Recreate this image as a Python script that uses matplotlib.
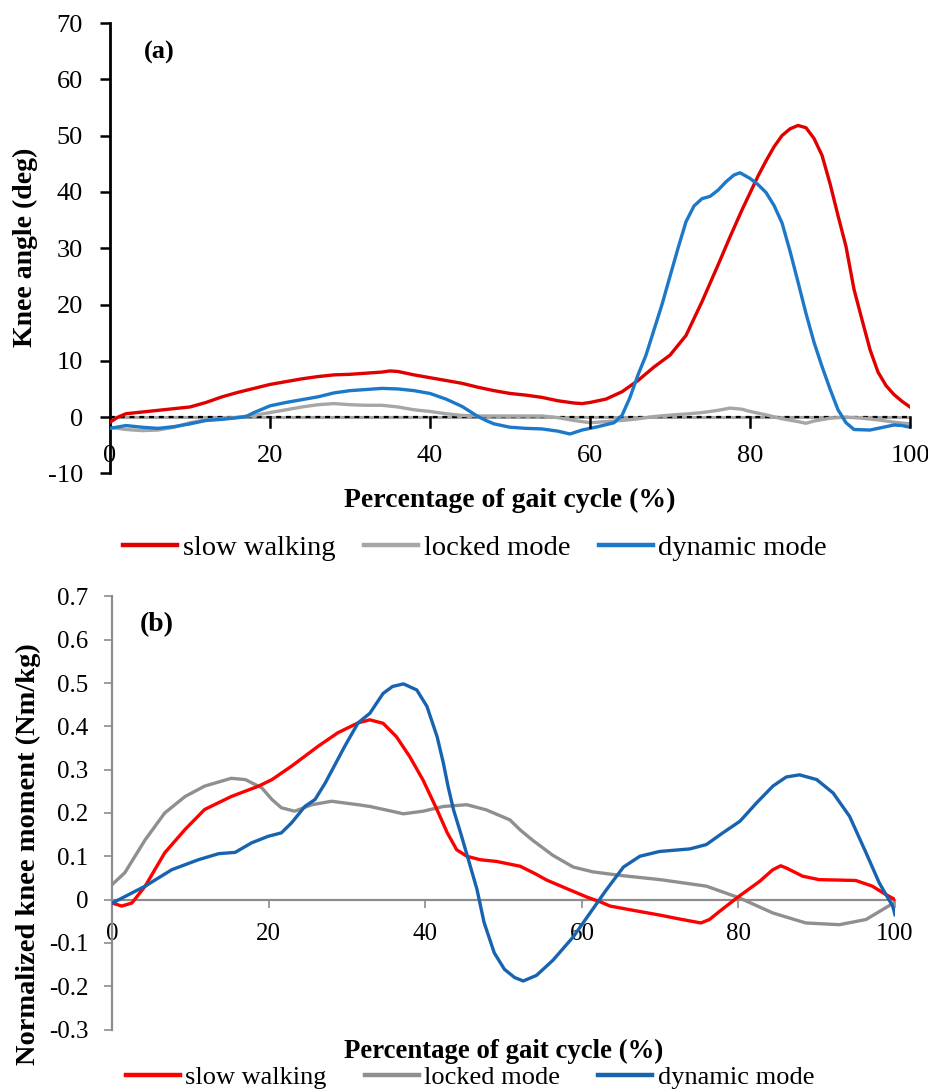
import matplotlib
matplotlib.use("Agg")
import matplotlib.pyplot as plt
from matplotlib.lines import Line2D

plt.rcParams['font.family'] = ['Liberation Serif', 'DejaVu Serif']
plt.rcParams['axes.unicode_minus'] = False

# ---------------- (a) Knee angle ----------------
a_slow_x = [0, 1, 2, 4, 6, 8, 10, 12, 14, 16, 18, 20, 22, 24, 26, 28, 30, 32, 34, 35, 36, 38, 40,
            42, 44, 46, 48, 50, 52, 54, 56, 58, 59, 60, 62, 64, 66, 68, 70, 72, 74, 76, 77.5, 78,
            79, 80, 81, 82, 83, 84, 85, 86, 87, 88, 89, 90, 91, 92, 93, 94, 95, 96, 97, 98, 99, 100]
a_slow_y = [-0.9, 0.0, 0.6, 0.9, 1.2, 1.5, 1.8, 2.6, 3.6, 4.4, 5.1, 5.8, 6.3, 6.8, 7.2, 7.5, 7.6,
            7.8, 8.0, 8.2, 8.1, 7.5, 7.0, 6.5, 6.0, 5.3, 4.7, 4.2, 3.9, 3.5, 2.9, 2.5, 2.4, 2.6,
            3.2, 4.5, 6.5, 8.9, 11.0, 14.5, 20.5, 27.0, 32.0, 33.6, 36.8, 39.8, 42.8, 45.5, 48.0,
            50.0, 51.2, 51.8, 51.4, 49.5, 46.5, 41.5, 35.8, 30.3, 22.7, 17.3, 12.0, 8.0, 5.6,
            4.0, 2.8, 1.8]

a_lock_x = [0, 2, 4, 6, 8, 10, 12, 14, 16, 18, 20, 22, 24, 26, 28, 30, 32, 34, 36, 38, 40, 42, 44,
            46, 50, 54, 56, 58, 60, 62, 64, 66, 68, 70, 72, 74, 76, 77.5, 79, 80, 82, 84, 86, 87,
            88, 90, 92, 94, 96, 98, 100]
a_lock_y = [-1.8, -2.2, -2.4, -2.3, -1.8, -1.0, -0.5, -0.3, 0.0, 0.3, 0.8, 1.3, 1.8, 2.2, 2.4,
            2.2, 2.1, 2.1, 1.8, 1.3, 1.0, 0.6, 0.3, 0.2, 0.2, 0.2, -0.1, -0.6, -1.0, -0.8, -0.6,
            -0.3, 0.1, 0.35, 0.55, 0.8, 1.2, 1.6, 1.4, 1.0, 0.4, -0.3, -0.8, -1.1, -0.7, -0.2,
            0.0, -0.2, -0.5, -0.9, -1.2]

a_dyn_x = [0, 2, 4, 6, 8, 10, 12, 14, 16, 17, 18, 20, 22, 24, 26, 28, 30, 32, 34, 36, 38, 40, 42,
           44, 45, 46, 47, 48, 50, 52, 54, 56, 57.5, 59, 61, 63, 64, 65, 66, 67, 68, 69, 70, 71,
           72, 73, 74, 75, 76, 77, 78, 78.75, 80, 81, 82, 83, 84, 85, 86, 87, 88, 89, 90, 91, 92,
           93, 95, 97, 98, 99, 100]
a_dyn_y = [-2.0, -1.5, -1.8, -2.0, -1.7, -1.2, -0.6, -0.4, -0.1, 0.1, 0.8, 2.0, 2.6, 3.1, 3.6,
           4.3, 4.7, 4.9, 5.1, 5.0, 4.7, 4.2, 3.2, 1.9, 1.0, 0.1, -0.6, -1.2, -1.8, -2.0, -2.1,
           -2.5, -3.0, -2.3, -1.7, -1.0, 0.3, 3.5, 7.5, 11.0, 15.5, 20.0, 25.0, 30.0, 34.7, 37.5,
           38.8, 39.2, 40.3, 41.8, 43.0, 43.4, 42.4, 41.3, 39.9, 37.6, 34.5, 29.5, 24.0, 18.4,
           13.3, 9.0, 5.0, 1.3, -1.0, -2.2, -2.3, -1.7, -1.4, -1.5, -1.8]

# ---------------- (b) Knee moment ----------------
b_slow_x = [0, 1.2, 2.5, 4.2, 6.7, 9.3, 11.8, 15.2, 18.7, 20.4, 22.9, 26.3, 28.8, 31.4, 32.9,
            34.6, 36.3, 38, 39.7, 41.5, 42.8, 44, 45.3, 47, 49.1, 52.1, 54, 55.5, 58.1, 60.6,
            62.3, 63.6, 66.6, 70, 72.5, 75.2, 76.3, 77.6, 80.1, 82.7, 84.4, 85.4, 86.1, 88.2,
            90.3, 92.9, 95, 97.1, 98.8, 100]
b_slow_y = [-0.008, -0.015, -0.008, 0.031, 0.108, 0.162, 0.208, 0.238, 0.262, 0.277, 0.308,
            0.354, 0.385, 0.408, 0.415, 0.407, 0.376, 0.33, 0.276, 0.207, 0.154, 0.115, 0.1,
            0.092, 0.088, 0.077, 0.06, 0.045, 0.025, 0.006, -0.005, -0.015, -0.025, -0.036,
            -0.045, -0.054, -0.046, -0.027, 0.008, 0.042, 0.069, 0.078, 0.073, 0.054, 0.046,
            0.045, 0.044, 0.031, 0.012, 0.0]

b_lock_x = [0, 1.6, 4.2, 6.7, 9.3, 11.8, 15.2, 17, 19.1, 20.4, 21.6, 23.3, 25.5, 28, 31.4, 32.9,
            35.7, 37.2, 39.7, 42.3, 45.3, 47.8, 50.8, 52.1, 53.7, 56.3, 58.9, 61.4, 64.8, 70,
            75.9, 80.1, 84.4, 88.6, 92.9, 96.3, 98.8, 100]
b_lock_y = [0.035, 0.062, 0.138, 0.2, 0.238, 0.262, 0.28, 0.277, 0.258, 0.231, 0.212, 0.204,
            0.219, 0.227, 0.219, 0.215, 0.204, 0.198, 0.204, 0.215, 0.219, 0.207, 0.184, 0.161,
            0.137, 0.102, 0.075, 0.064, 0.056, 0.046, 0.031, 0.004, -0.031, -0.054, -0.058,
            -0.046, -0.019, -0.006]

b_dyn_x = [0, 4.2, 7.6, 11, 13.6, 15.7, 17.8, 19.9, 21.6, 22.9, 24.6, 25.9, 27.2, 29.7, 31.4,
           32.9, 34.6, 35.8, 37.2, 38.9, 40.2, 41.5, 42.3, 42.9, 43.6, 44.5, 45.5, 46.6, 47.5,
           48.8, 50.1, 51.4, 52.5, 54.2, 56.3, 58.9, 61, 63.1, 65.3, 67.4, 69.9, 73.8, 75.9, 78,
           80.2, 82.3, 84.4, 86.1, 87.8, 90, 92.1, 94.2, 96.3, 98, 99.7, 100]
b_dyn_y = [-0.008, 0.031, 0.069, 0.092, 0.106, 0.109, 0.131, 0.146, 0.154, 0.177, 0.215, 0.231,
           0.269, 0.354, 0.408, 0.43, 0.476, 0.492, 0.498, 0.484, 0.446, 0.376, 0.315, 0.261,
           0.207, 0.154, 0.092, 0.023, -0.053, -0.123, -0.161, -0.18, -0.188, -0.175, -0.14,
           -0.086, -0.032, 0.022, 0.075, 0.1, 0.111, 0.117, 0.127, 0.154, 0.181, 0.223, 0.262,
           0.283, 0.288, 0.277, 0.246, 0.192, 0.108, 0.038, -0.015, -0.035]

x_ticks = [0, 20, 40, 60, 80, 100]
a_yticks = [-10, 0, 10, 20, 30, 40, 50, 60, 70]
b_yticks = [-0.3, -0.2, -0.1, 0, 0.1, 0.2, 0.3, 0.4, 0.5, 0.6, 0.7]
b_yticklabels = ["-0.3", "-0.2", "-0.1", "0", "0.1", "0.2", "0.3", "0.4", "0.5", "0.6", "0.7"]
series_names = ["slow walking", "locked mode", "dynamic mode"]

W, H = 929, 1090
fig = plt.figure(figsize=(W / 100, H / 100), dpi=100)

def fx(px):
    return px / W

def fy(py):
    return 1 - py / H

# ---------- top axes ----------
ax1 = fig.add_axes([fx(110), fy(473.4), (910 - 110) / W, (473.4 - 23) / H])
ca = ["#E00000", "#A6A6A6", "#1C78C8"]
lw_a = 2.4
ax1.axhline(0, color="#A6A6A6", lw=2.2, zorder=1)
ax1.axhline(0, color="black", lw=1.6, ls=(0, (2.2, 2.2)), zorder=1.5)
ax1.plot(a_lock_x, a_lock_y, color=ca[1], lw=lw_a, zorder=2)
ax1.plot(a_slow_x, a_slow_y, color=ca[0], lw=lw_a, zorder=3)
ax1.plot(a_dyn_x, a_dyn_y, color=ca[2], lw=lw_a, zorder=4)
ax1.set_xlim(0, 100)
ax1.set_ylim(-10, 70)
ax1.set_xticks(x_ticks)
ax1.set_yticks(a_yticks)
for s in ["top", "right", "bottom"]:
    ax1.spines[s].set_visible(False)
ax1.spines["left"].set_linewidth(2.0)
ax1.spines["left"].set_color("black")
ax1.tick_params(axis="y", direction="out", length=7.5, width=1.8, colors="black",
                labelsize=19, pad=12)
ax1.tick_params(axis="x", length=0, pad=0)
ax1.set_xticklabels([])
for xv in x_ticks[1:]:
    ax1.plot([xv, xv], [0, -1.8], color="black", lw=1.8, zorder=5, clip_on=False)
for xv in x_ticks:
    ax1.text(xv, -6.9, str(xv), ha="center", va="center", fontsize=19)
ax1.text(6.1, 64.7, "(a)", fontsize=19, fontweight="bold", ha="center", va="center")

fig.text(fx(510), fy(500), "Percentage of gait cycle (%)", ha="center", va="center",
         fontsize=20, fontweight="bold")
fig.text(fx(25), fy(247), "Knee angle (deg)", ha="center", va="center", rotation=90,
         fontsize=20, fontweight="bold")

h1 = [Line2D([], [], color=c, lw=3.2) for c in ca]
fig.legend(h1, series_names, loc="center", bbox_to_anchor=(fx(475), fy(548)), ncol=3,
           frameon=False, fontsize=20.5, handlelength=1.9, handletextpad=0.2,
           columnspacing=1.0, borderaxespad=0, borderpad=0)

# ---------- bottom axes ----------
ax2 = fig.add_axes([fx(112.3), fy(1029.5), (895 - 112.3) / W, (1029.5 - 596.4) / H])
cb = ["#FF0000", "#8F8F8F", "#1763B0"]
lw_b = 2.4
ax2.plot(b_lock_x, b_lock_y, color=cb[1], lw=lw_b, zorder=2)
ax2.plot(b_slow_x, b_slow_y, color=cb[0], lw=lw_b, zorder=3)
ax2.plot(b_dyn_x, b_dyn_y, color=cb[2], lw=lw_b, zorder=4)
ax2.set_xlim(0, 100)
ax2.set_ylim(-0.3, 0.7)
ax2.set_xticks(x_ticks)
ax2.set_yticks(b_yticks)
ax2.set_yticklabels(b_yticklabels)
for s in ["top", "right"]:
    ax2.spines[s].set_visible(False)
ax2.spines["bottom"].set_position(("data", 0))
ax2.spines["bottom"].set_color("#8C8C8C")
ax2.spines["bottom"].set_linewidth(1.6)
ax2.spines["left"].set_color("#8C8C8C")
ax2.spines["left"].set_linewidth(1.6)
ax2.tick_params(axis="y", direction="out", length=6, width=1.2, colors="#8C8C8C",
                labelcolor="black", labelsize=18, pad=11)
ax2.tick_params(axis="x", direction="out", length=6, width=1.2, colors="#8C8C8C",
                labelcolor="black", labelsize=18, pad=11)
ax2.text(5.7, 0.634, "(b)", fontsize=20, fontweight="bold", ha="center", va="center")

fig.text(fx(504), fy(1051), "Percentage of gait cycle (%)", ha="center", va="center",
         fontsize=19.3, fontweight="bold")
fig.text(fx(28), fy(854), "Normalized knee moment (Nm/kg)", ha="center", va="center",
         rotation=90, fontsize=20.5, fontweight="bold")

h2 = [Line2D([], [], color=c, lw=3.2) for c in cb]
fig.legend(h2, series_names, loc="center", bbox_to_anchor=(fx(470), fy(1077)), ncol=3,
           frameon=False, fontsize=19, handlelength=2.05, handletextpad=0.2,
           columnspacing=1.45, borderaxespad=0, borderpad=0)

fig.savefig("out.png", dpi=100)
